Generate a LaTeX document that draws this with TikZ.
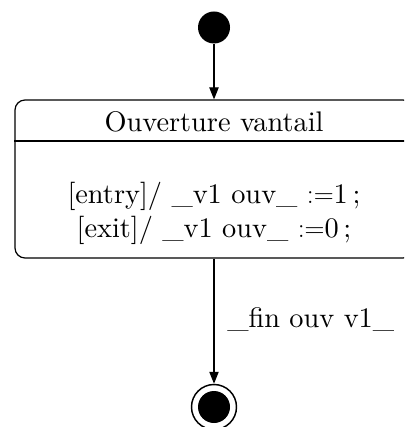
\documentclass[tikz,border=0pt]{standalone}
\usepackage{fontspec}
\setmainfont{lmroman10-regular.otf}
\usetikzlibrary{arrows.meta}
\begin{document}
\begin{tikzpicture}[x=0.75pt,y=-0.75pt,
  txt/.style={inner sep=0pt,font=\fontsize{21.25}{25}\selectfont},
  line/.style={line width=0.9pt},
  arr/.style={line width=0.9pt,-{Triangle[length=9pt,width=7pt]}}]
\clip (0,0) rectangle (404,427);
\useasboundingbox (0,0) rectangle (404,427);
% initial state
\node[circle,fill=black,minimum size=24pt,inner sep=0pt] (init) at (214,27.5) {};
% composite state
\node[draw,line width=0.9pt,rounded corners=7.5pt,minimum width=298.5pt,minimum height=118.5pt,inner sep=0pt] (state) at (214,179) {};
\coordinate (hdr) at (214,141);
\draw[line] (state.west |- hdr) -- (state.east |- hdr);
\node[txt,anchor=base] (title) at (214,131.5) {Ouverture vantail};
\node[txt,anchor=base] (entry) at (214,203.5) {[entry]/ \_v1 ouv\_ \(:=\)1\,;};
\node[txt,anchor=base] (exit) at (214,237) {[exit]/ \_v1 ouv\_ \(:=\)0\,;};
% final state
\node[circle,draw,line width=1.1pt,minimum size=33.75pt,inner sep=0pt] (final) at (214,407) {};
\node[circle,fill=black,minimum size=24pt,inner sep=0pt] (finalin) at (214,407) {};
% transitions
\draw[arr] (init) -- (state.north -| init);
\draw[arr] (state.south -| final) -- (final);
\node[txt,anchor=base west] (lbl) at (227,327) {\_fin ouv v1\_};
\end{tikzpicture}
\end{document}
